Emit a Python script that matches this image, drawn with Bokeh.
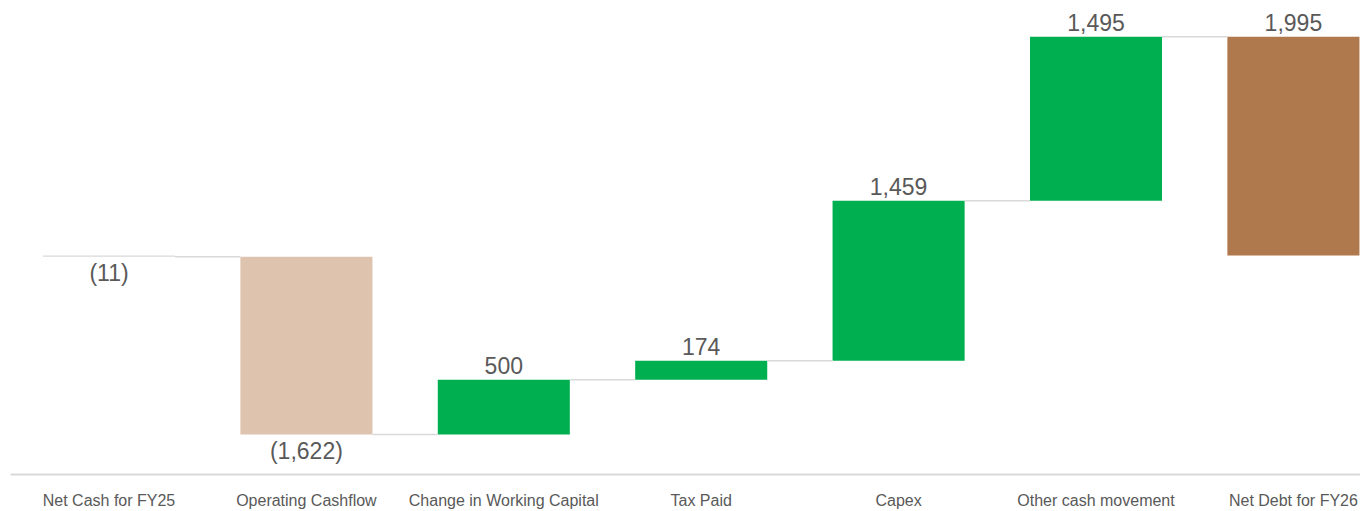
from bokeh.plotting import figure
from bokeh.models import Range1d, FixedTicker, ColumnDataSource
from bokeh.core.properties import value
from bokeh.embed import file_html
from bokeh.resources import INLINE

categories = ["Net Cash for FY25", "Operating Cashflow", "Change in Working Capital",
              "Tax Paid", "Capex", "Other cash movement", "Net Debt for FY26"]
values = [-11, -1622, 500, 174, 1459, 1495, 1995]
labels = ["(11)", "(1,622)", "500", "174", "1,459", "1,495", "1,995"]
is_total = [True, False, False, False, False, False, True]
colors = ["#D9D9D9", "#DEC4AE", "#00B050", "#00B050", "#00B050", "#00B050", "#B0784D"]

# waterfall geometry
bottoms, tops, levels = [], [], []
run = 0
for v, t in zip(values, is_total):
    if t:
        b, e = 0, v
        run = v
    else:
        b, e = run, run + v
        run = run + v
    bottoms.append(min(b, e))
    tops.append(max(b, e))
    levels.append(run)

xs = list(range(len(categories)))
W = 0.669

p = figure(frame_width=1350, frame_height=474, output_backend="svg", toolbar_location=None,
           x_range=Range1d(-0.499, -0.499 + 1350 / 197.4),
           y_range=Range1d(-1997, 2326),
           min_border_left=10, min_border_right=0, min_border_top=0, min_border_bottom=0)
p.outline_line_color = None
p.xgrid.visible = False
p.ygrid.visible = False
p.yaxis.visible = False
p.background_fill_color = "white"
p.border_fill_color = "white"

src = ColumnDataSource(dict(x=xs, top=tops, bottom=bottoms, color=colors))
p.vbar(x="x", top="top", bottom="bottom", width=W, fill_color="color", line_color=None, source=src)

# connectors
x0s = [x + W / 2 for x in xs[:-1]]
x1s = [x + 1 - W / 2 for x in xs[:-1]]
ys = levels[:-1]
p.segment(x0=x0s, y0=ys, x1=x1s, y1=ys, line_color="#D9D9D9", line_width=1.5)

# value labels
pos_x, pos_y, pos_t, neg_x, neg_y, neg_t = [], [], [], [], [], []
for x, v, lab, b, t in zip(xs, values, labels, bottoms, tops):
    if v >= 0:
        pos_x.append(x); pos_y.append(t); pos_t.append(lab)
    else:
        neg_x.append(x); neg_y.append(b); neg_t.append(lab)
p.text(x=pos_x, y=pos_y, text=pos_t, text_align="center", text_baseline="alphabetic",
       y_offset=-14, text_font=value("Liberation Sans"), text_font_size="23px", text_color="#595959")
p.text(x=neg_x, y=neg_y, text=neg_t, text_align="center", text_baseline="alphabetic",
       y_offset=16, text_font=value("Liberation Sans"), text_font_size="23px", text_color="#595959")

ax = p.xaxis[0]
ax.ticker = FixedTicker(ticks=xs)
ax.major_label_overrides = {i: c for i, c in zip(xs, categories)}
ax.axis_line_color = "#D9D9D9"
ax.axis_line_width = 2
ax.major_tick_line_color = None
ax.minor_tick_line_color = None
ax.major_tick_out = 0
ax.major_tick_in = 0
ax.major_label_standoff = 17
ax.major_label_text_font = "Liberation Sans"
ax.major_label_text_font_size = "16px"
ax.major_label_text_color = "#595959"

open("out.html", "w").write(file_html(p, INLINE))
